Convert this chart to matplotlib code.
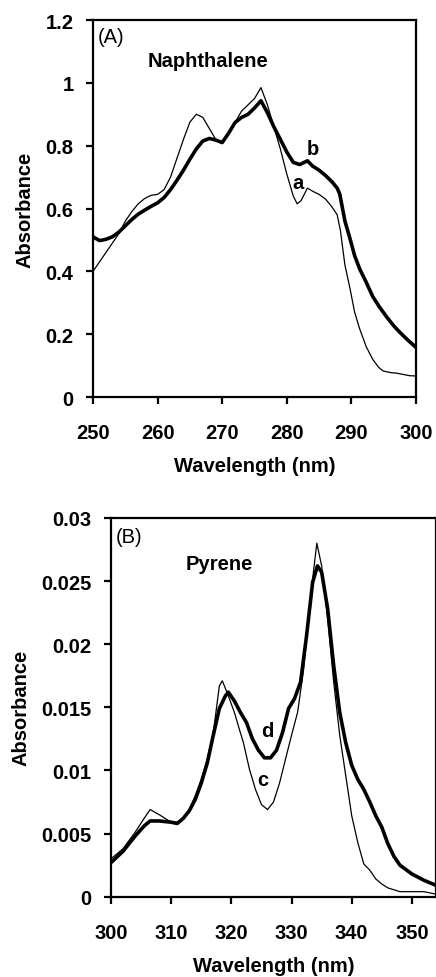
# UV absorbance spectra: naphthalene (A) and pyrene (B)
import matplotlib
matplotlib.use("Agg")
import matplotlib.pyplot as plt

plt.rcParams['font.family'] = ['Liberation Sans', 'DejaVu Sans']
plt.rcParams['font.weight'] = 'bold'

# Panel A - naphthalene, curve a (thin) and b (thick)
wl_a = [250, 251, 252, 253, 254, 255, 256, 257, 258, 259, 260, 261, 262, 263, 264, 265,
        266, 267, 268, 269, 270, 271, 272, 273, 274, 275, 276, 277, 278, 279, 280, 281,
        281.6, 282.2, 283.2, 284, 285, 286, 287, 287.8, 288.3, 289, 289.8, 290.5, 291.3,
        292.3, 293.3, 294.2, 294.9, 296, 297, 298, 299, 300]
abs_a = [0.40, 0.43, 0.46, 0.49, 0.52, 0.56, 0.59, 0.615, 0.632, 0.642, 0.645, 0.66, 0.70,
         0.76, 0.82, 0.875, 0.90, 0.89, 0.855, 0.82, 0.81, 0.84, 0.875, 0.91, 0.93, 0.95,
         0.985, 0.93, 0.86, 0.79, 0.71, 0.64, 0.615, 0.625, 0.665, 0.655, 0.645, 0.63,
         0.605, 0.58, 0.53, 0.42, 0.344, 0.27, 0.216, 0.16, 0.12, 0.095, 0.083, 0.078,
         0.076, 0.072, 0.068, 0.067]

wl_b = [250, 251, 252, 253, 254, 255, 256, 257, 258, 259, 260, 261, 262, 263, 264, 265,
        266, 267, 268, 269, 270, 271, 272, 273, 274, 275, 276, 277, 278, 279, 280, 281,
        282, 283.2, 284, 285, 286, 287, 287.8, 288.2, 289, 289.8, 290.5, 291.3, 292.3,
        293.3, 294.4, 295.5, 296.5, 297.5, 298.7, 300]
abs_b = [0.51, 0.498, 0.502, 0.51, 0.525, 0.545, 0.565, 0.582, 0.595, 0.607, 0.618, 0.635,
         0.66, 0.69, 0.722, 0.757, 0.79, 0.815, 0.823, 0.818, 0.81, 0.84, 0.874, 0.89,
         0.90, 0.92, 0.943, 0.905, 0.86, 0.82, 0.78, 0.747, 0.74, 0.752, 0.735, 0.722,
         0.705, 0.685, 0.665, 0.646, 0.56, 0.503, 0.45, 0.407, 0.365, 0.32, 0.285, 0.254,
         0.228, 0.206, 0.182, 0.158]

# Panel B - pyrene, curve c (thin) and d (thick)
wl_c = [300, 302, 304, 305.5, 306.5, 308, 310, 311, 312, 313, 314, 315, 316, 317, 318,
        318.5, 319.5, 320.5, 321.3, 322, 323, 324, 325, 326, 327, 328, 329, 330, 331, 332,
        333, 333.7, 334.2, 335, 336, 337, 338, 339, 340, 341, 342, 343, 344, 345, 346, 348,
        350, 352, 354]
abs_c = [0.0030, 0.0038, 0.0051, 0.0062, 0.0069, 0.0065, 0.0059, 0.0059, 0.0062, 0.0069,
         0.0080, 0.0093, 0.0109, 0.0130, 0.0167, 0.0171, 0.0159, 0.0146, 0.0133, 0.0122,
         0.0101, 0.0085, 0.0073, 0.0069, 0.0075, 0.0090, 0.0109, 0.0128, 0.0146, 0.0180,
         0.0229, 0.0260, 0.0280, 0.0262, 0.0220, 0.0170, 0.0128, 0.0096, 0.0064, 0.0043,
         0.0026, 0.0021, 0.0014, 0.0010, 0.0007, 0.0004, 0.0004, 0.0004, 0.0002]

wl_d = [300, 302, 304, 305.5, 306.5, 308, 310, 311, 312, 313, 314, 315, 316, 317, 318, 319,
        319.5, 320.5, 321.5, 322.5, 323.5, 324.5, 325.5, 326.5, 327.5, 328.5, 329.5, 330.5,
        331.5, 332.5, 333.5, 334.3, 335, 336, 337, 338, 339, 340, 341, 342, 343, 344, 345,
        346, 347, 348, 350, 352, 354]
abs_d = [0.0027, 0.0036, 0.0048, 0.0056, 0.0060, 0.0060, 0.0059, 0.0058, 0.0062, 0.0068,
         0.0077, 0.0090, 0.0106, 0.0128, 0.0149, 0.0159, 0.0162, 0.0155, 0.0146, 0.0138,
         0.0125, 0.0116, 0.0110, 0.0110, 0.0116, 0.0130, 0.0149, 0.0157, 0.0170, 0.0207,
         0.0249, 0.0262, 0.0257, 0.0228, 0.0183, 0.0146, 0.0122, 0.0104, 0.0093, 0.0085,
         0.0075, 0.0064, 0.0055, 0.0042, 0.0032, 0.0025, 0.0018, 0.0013, 0.0009]

xticks_a = [250, 260, 270, 280, 290, 300]
yticks_a = [0, 0.2, 0.4, 0.6, 0.8, 1.0, 1.2]
ylabels_a = ['0', '0.2', '0.4', '0.6', '0.8', '1', '1.2']
xticks_b = [300, 310, 320, 330, 340, 350]
yticks_b = [0, 0.005, 0.01, 0.015, 0.02, 0.025, 0.03]
ylabels_b = ['0', '0.005', '0.01', '0.015', '0.02', '0.025', '0.03']

FS = 14.5

fig = plt.figure(figsize=(4.36, 9.78), dpi=100)
ax1 = fig.add_axes([0.2133, 0.5930, 0.7408, 0.3855])
ax2 = fig.add_axes([0.2546, 0.0821, 0.7454, 0.3873])


def style_axes(ax, xticks, yticks, ylabels):
    for s in ax.spines.values():
        s.set_linewidth(1.6)
    ax.set_xticks(xticks)
    ax.set_yticks(yticks)
    ax.set_yticklabels(ylabels)
    ax.tick_params(direction='out', length=5, width=1.6, labelsize=FS)
    ax.tick_params(axis='x', pad=14)
    ax.tick_params(axis='y', pad=9)
    ax.set_xlabel('Wavelength (nm)', fontsize=FS, fontweight='bold', labelpad=10)
    ax.set_ylabel('Absorbance', fontsize=FS, fontweight='bold', labelpad=8)


# (A) Naphthalene
ax1.plot(wl_a, abs_a, color='black', lw=0.9)
ax1.plot(wl_b, abs_b, color='black', lw=2.6)
ax1.set_xlim(250, 300)
ax1.set_ylim(0, 1.2)
style_axes(ax1, xticks_a, yticks_a, ylabels_a)
ax1.text(250.8, 1.146, '(A)', fontsize=FS, fontweight='normal', va='center', ha='left')
ax1.text(258.5, 1.07, 'Naphthalene', fontsize=FS, fontweight='bold', va='center', ha='left')
ax1.text(281.7, 0.684, 'a', fontsize=FS, fontweight='bold', va='center', ha='center')
ax1.text(284.0, 0.79, 'b', fontsize=FS, fontweight='bold', va='center', ha='center')

# (B) Pyrene
ax2.plot(wl_c, abs_c, color='black', lw=0.9)
ax2.plot(wl_d, abs_d, color='black', lw=2.6)
ax2.set_xlim(300, 354)
ax2.set_ylim(0, 0.03)
style_axes(ax2, xticks_b, yticks_b, ylabels_b)
ax2.text(300.8, 0.0285, '(B)', fontsize=FS, fontweight='normal', va='center', ha='left')
ax2.text(312.4, 0.0264, 'Pyrene', fontsize=FS, fontweight='bold', va='center', ha='left')
ax2.text(326.0, 0.01315, 'd', fontsize=FS, fontweight='bold', va='center', ha='center')
ax2.text(325.3, 0.0093, 'c', fontsize=FS, fontweight='bold', va='center', ha='center')

fig.savefig('out.png', dpi=100)
